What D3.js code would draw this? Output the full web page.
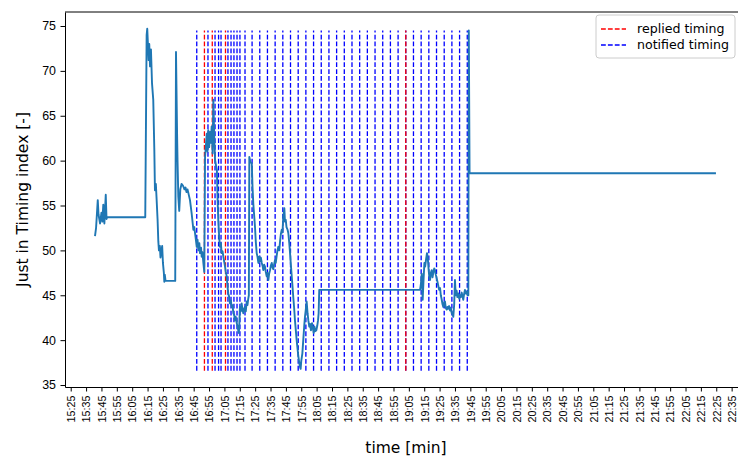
<!DOCTYPE html>
<html>
<head>
<meta charset="utf-8">
<script src="https://cdn.jsdelivr.net/npm/d3@7"></script>
<style>
  html, body { margin: 0; padding: 0; background: #fff; }
  svg { display: block; font-family: "DejaVu Sans", sans-serif; }
</style>
</head>
<body>
<svg id="chart" width="738" height="459"></svg>
<script>
// Just-in-Timing index, sampled over the session (minutes after 15:00)
const elapsedMin = [
  40.8, 41.5, 42.6, 43.1, 44.1, 45.0, 45.6, 46.2, 46.9, 47.8, 48.3, 48.7,
  73.5, 74.4, 74.8, 75.7, 76.1, 76.6, 77.2, 77.9, 78.7, 79.4, 79.8, 80.4,
  80.8, 81.5, 82.0, 82.4, 83.0, 83.4, 83.9, 84.5, 85.0, 85.6, 85.9, 86.2,
  86.7, 93.0, 93.5, 94.2, 94.5, 95.0, 95.6, 96.3, 97.1, 98.1, 99.0, 99.7,
  100.3, 101.0, 102.6, 103.7, 104.8, 105.4, 106.2, 107.0, 107.5, 108.1, 108.7, 109.1,
  109.8, 110.2, 110.7, 111.3, 111.9, 112.4, 112.9, 113.5, 114.0, 114.5, 115.1, 115.6,
  116.1, 116.7, 117.3, 117.8, 118.4, 118.9, 119.5, 120.1, 120.5, 121.0, 121.6, 122.1,
  122.7, 123.2, 123.8, 124.3, 124.9, 125.4, 125.9, 126.5, 127.0, 127.5, 128.1, 128.6,
  129.2, 129.7, 130.3, 130.8, 131.4, 131.9, 132.4, 133.0, 133.5, 134.0, 134.4, 134.7,
  135.1, 135.7, 136.2, 136.8, 137.3, 137.9, 138.4, 138.9, 139.5, 140.0, 140.5, 140.9,
  141.2, 142.0, 142.8, 143.3, 143.8, 144.4, 144.9, 145.4, 146.0, 146.5, 147.1, 147.6,
  148.2, 148.7, 149.3, 149.8, 150.3, 150.9, 151.4, 151.9, 152.5, 153.0, 153.6, 154.1,
  154.7, 155.2, 155.8, 156.3, 156.8, 157.4, 157.9, 158.4, 159.0, 159.5, 160.1, 160.7,
  161.2, 161.7, 162.3, 162.8, 163.3, 164.0, 164.4, 164.9, 165.4, 166.1, 166.6, 167.2,
  167.7, 168.2, 168.8, 169.3, 169.8, 170.4, 170.9, 171.5, 172.0, 172.6, 173.1, 173.7,
  174.2, 174.6, 175.0, 175.7, 176.3, 176.9, 177.4, 178.0, 178.5, 179.1, 179.6, 180.2,
  180.7, 181.3, 182.0, 182.6, 183.1, 183.6, 184.1, 184.8, 185.4, 185.9, 186.3, 186.7,
  252.3, 252.8, 253.4, 254.0, 254.5, 255.1, 255.6, 256.2, 256.8, 257.3, 257.8, 258.2,
  258.8, 259.3, 259.9, 260.4, 260.9, 261.5, 262.0, 262.5, 263.1, 263.6, 264.2, 264.7,
  265.3, 265.8, 266.4, 266.9, 267.4, 268.0, 268.5, 269.0, 269.6, 270.1, 270.7, 271.2,
  271.8, 272.3, 272.9, 273.4, 273.9, 274.5, 275.0, 275.5, 276.1, 276.6, 277.2, 277.8,
  278.3, 278.8, 279.4, 279.9, 280.4, 281.0, 281.5, 282.0, 282.6, 283.2, 283.7, 284.0,
  284.5, 444.8
];
const jitIndex = [
  51.6, 52.5, 55.6, 54.0, 53.0, 54.2, 53.2, 55.1, 53.0, 56.2, 53.5, 53.7,
  53.7, 74.0, 74.7, 71.2, 73.0, 70.5, 72.4, 68.6, 66.8, 61.2, 56.7, 57.4,
  56.0, 53.5, 51.0, 50.0, 50.5, 49.2, 49.8, 50.5, 48.6, 47.5, 46.5, 47.3,
  46.6, 46.6, 72.1, 63.0, 60.0, 56.0, 54.4, 56.8, 57.4, 57.2, 56.8, 57.0,
  56.5, 56.8, 55.6, 54.1, 52.3, 52.6, 51.5, 50.4, 51.2, 50.0, 50.8, 49.7,
  50.3, 49.3, 49.8, 48.6, 47.6, 60.4, 61.5, 63.0, 61.0, 63.4, 61.5, 63.2,
  62.0, 63.8, 60.8, 66.8, 62.5, 60.1, 59.5, 59.0, 56.0, 53.4, 51.5, 50.4,
  50.8, 49.7, 49.9, 49.3, 48.7, 48.2, 47.6, 47.1, 46.0, 45.2, 44.8, 44.1,
  44.4, 43.7, 43.9, 43.0, 42.8, 42.2, 42.6, 41.9, 41.6, 41.1, 40.8, 41.8,
  43.7, 43.2, 44.1, 43.4, 43.0, 43.5, 43.7, 43.2, 44.3, 43.9, 44.6, 45.0,
  60.4, 59.8, 59.7, 57.0, 55.2, 53.8, 52.6, 51.0, 49.7, 49.3, 48.6, 49.3,
  48.8, 49.2, 48.6, 48.3, 47.8, 48.4, 48.2, 47.6, 47.1, 47.5, 46.7, 47.4,
  47.8, 48.3, 48.6, 48.1, 47.9, 48.5, 48.9, 48.6, 49.4, 50.0, 50.4, 50.0,
  51.0, 51.8, 52.3, 52.0, 53.8, 54.7, 53.2, 53.4, 52.6, 52.3, 51.9, 50.8,
  49.7, 48.5, 47.1, 46.0, 44.8, 43.5, 42.2, 41.0, 40.0, 39.0, 38.2, 37.5,
  37.0, 36.8, 37.7, 38.5, 40.0, 41.5, 42.6, 43.5, 44.3, 43.0, 42.2, 41.5,
  41.8, 41.1, 41.9, 41.3, 40.8, 41.5, 41.0, 41.1, 41.6, 42.2, 43.0, 45.6,
  45.6, 46.2, 47.4, 44.5, 46.5, 48.6, 48.2, 49.0, 49.7, 49.2, 48.0, 47.2,
  46.7, 47.5, 47.8, 47.0, 47.5, 48.0, 47.8, 47.3, 46.9, 46.5, 46.0, 45.6,
  45.8, 45.0, 44.5, 44.0, 43.7, 44.2, 44.3, 43.6, 43.4, 43.7, 43.5, 43.8,
  43.3, 43.6, 43.0, 42.9, 42.6, 44.0, 46.7, 45.0, 45.5, 44.8, 45.2, 44.6,
  45.0, 44.8, 45.3, 44.9, 44.5, 45.2, 45.6, 45.2, 45.4, 45.0, 45.0, 74.5,
  58.6, 58.6
];

// Event timings drawn as dashed vertical markers
const notifiedTimes = [
  "16:47:00", "16:54:18", "16:58:54", "17:01:12", "17:02:48", "17:07:18",
  "17:09:18", "17:11:12", "17:13:12", "17:15:06", "17:18:24",
  "17:23:00", "17:28:00", "17:33:00", "17:38:00", "17:43:00", "17:48:00",
  "17:53:00", "17:58:00", "18:03:00", "18:08:00", "18:13:00", "18:18:00",
  "18:23:00", "18:28:00", "18:33:00", "18:38:00", "18:43:00", "18:48:00",
  "18:53:00", "18:58:00", "19:03:00", "19:08:00", "19:13:00", "19:18:00",
  "19:23:00", "19:28:00", "19:33:00", "19:38:00", "19:43:00"
];
const repliedTimes = ["16:52:00", "16:57:06", "17:05:42", "19:03:00"];
const markerSpan = [36.6, 74.5];

// Axis ticks and extents
const xTickLabels = [
  "15:25", "15:35", "15:45", "15:55", "16:05", "16:15", "16:25", "16:35",
  "16:45", "16:55", "17:05", "17:15", "17:25", "17:35", "17:45", "17:55",
  "18:05", "18:15", "18:25", "18:35", "18:45", "18:55", "19:05", "19:15",
  "19:25", "19:35", "19:45", "19:55", "20:05", "20:15", "20:25", "20:35",
  "20:45", "20:55", "21:05", "21:15", "21:25", "21:35", "21:45", "21:55",
  "22:05", "22:15", "22:25", "22:35"
];
const yTickValues = [35, 40, 45, 50, 55, 60, 65, 70, 75];
const xExtent = ["15:21:17", "22:45:00"];
const yExtent = [34.78, 76.56];

const legendItems = [
  { label: "replied timing", color: "#ff0000" },
  { label: "notified timing", color: "#0000ff" }
];

const parseHMS = d3.timeParse("%H:%M:%S");
const parseHM = d3.timeParse("%H:%M");
const origin = parseHMS("15:00:00");
const fromElapsed = m => new Date(origin.getTime() + m * 60000);

const svg = d3.select("#chart");
const plot = { left: 65, top: 12, right: 747, bottom: 387 };

const x = d3.scaleTime()
  .domain(xExtent.map(parseHMS))
  .range([plot.left, plot.right]);
const y = d3.scaleLinear()
  .domain(yExtent)
  .range([plot.bottom, plot.top]);

const series = elapsedMin.map((m, i) => ({ t: fromElapsed(m), v: jitIndex[i] }));

svg.append("defs").append("clipPath").attr("id", "plot-clip")
  .append("rect")
  .attr("x", plot.left).attr("y", plot.top)
  .attr("width", plot.right - plot.left).attr("height", plot.bottom - plot.top);

const layer = svg.append("g").attr("clip-path", "url(#plot-clip)");

// notified timings
layer.append("g").selectAll("line")
  .data(notifiedTimes.map(parseHMS))
  .join("line")
  .attr("x1", d => x(d)).attr("x2", d => x(d))
  .attr("y1", y(markerSpan[0])).attr("y2", y(markerSpan[1]))
  .attr("stroke", "#0000ff")
  .attr("stroke-width", 1.3)
  .attr("stroke-dasharray", "4.8,2.1");

// replied timings
layer.append("g").selectAll("line")
  .data(repliedTimes.map(parseHMS))
  .join("line")
  .attr("x1", d => x(d)).attr("x2", d => x(d))
  .attr("y1", y(markerSpan[0])).attr("y2", y(markerSpan[1]))
  .attr("stroke", "#ff0000")
  .attr("stroke-width", 1.3)
  .attr("stroke-dasharray", "4.8,2.1");

// index trace
layer.append("path")
  .datum(series)
  .attr("fill", "none")
  .attr("stroke", "#1f77b4")
  .attr("stroke-width", 1.9)
  .attr("stroke-linejoin", "round")
  .attr("d", d3.line().x(d => x(d.t)).y(d => y(d.v)));

// axes
const xAxis = svg.append("g")
  .attr("transform", `translate(0,${plot.bottom})`)
  .call(d3.axisBottom(x)
    .tickValues(xTickLabels.map(parseHM))
    .tickFormat(d3.timeFormat("%H:%M"))
    .tickSize(4.5)
    .tickSizeOuter(0));
xAxis.selectAll("text")
  .attr("font-size", "10.8px")
  .attr("fill", "#000")
  .attr("text-anchor", "end")
  .attr("transform", "rotate(-90)")
  .attr("x", -8.5)
  .attr("y", 0)
  .attr("dy", "0.35em");

const yAxis = svg.append("g")
  .attr("transform", `translate(${plot.left},0)`)
  .call(d3.axisLeft(y)
    .tickValues(yTickValues)
    .tickSize(4.5)
    .tickPadding(4.5)
    .tickSizeOuter(0));
yAxis.selectAll("text")
  .attr("font-size", "12.4px")
  .attr("fill", "#000");

svg.selectAll(".domain").attr("stroke", "#000").attr("stroke-width", 1);
svg.selectAll(".tick line").attr("stroke", "#000").attr("stroke-width", 1);

// top spine
svg.append("line")
  .attr("x1", plot.left).attr("x2", plot.right)
  .attr("y1", plot.top).attr("y2", plot.top)
  .attr("stroke", "#000").attr("stroke-width", 1);

// axis titles
svg.append("text")
  .attr("x", (plot.left + plot.right) / 2)
  .attr("y", 453)
  .attr("text-anchor", "middle")
  .attr("font-size", "15.5px")
  .attr("fill", "#000")
  .text("time [min]");

svg.append("text")
  .attr("transform", `translate(28,${(plot.top + plot.bottom) / 2}) rotate(-90)`)
  .attr("text-anchor", "middle")
  .attr("font-size", "15.5px")
  .attr("fill", "#000")
  .text("Just in Timing index [-]");

// legend
const legend = svg.append("g").attr("transform", "translate(596,15)");
legend.append("rect")
  .attr("width", 139).attr("height", 43)
  .attr("rx", 3).attr("ry", 3)
  .attr("fill", "#fff").attr("fill-opacity", 0.8)
  .attr("stroke", "#cccccc").attr("stroke-width", 1);
const rows = legend.selectAll("g.item")
  .data(legendItems)
  .join("g")
  .attr("class", "item")
  .attr("transform", (d, i) => `translate(0,${14 + i * 16})`);
rows.append("line")
  .attr("x1", 5).attr("x2", 30)
  .attr("stroke", d => d.color)
  .attr("stroke-width", 1.3)
  .attr("stroke-dasharray", "4.8,2.1");
rows.append("text")
  .attr("x", 41)
  .attr("dy", "0.35em")
  .attr("font-size", "12.6px")
  .attr("fill", "#000")
  .text(d => d.label);
</script>
</body>
</html>
